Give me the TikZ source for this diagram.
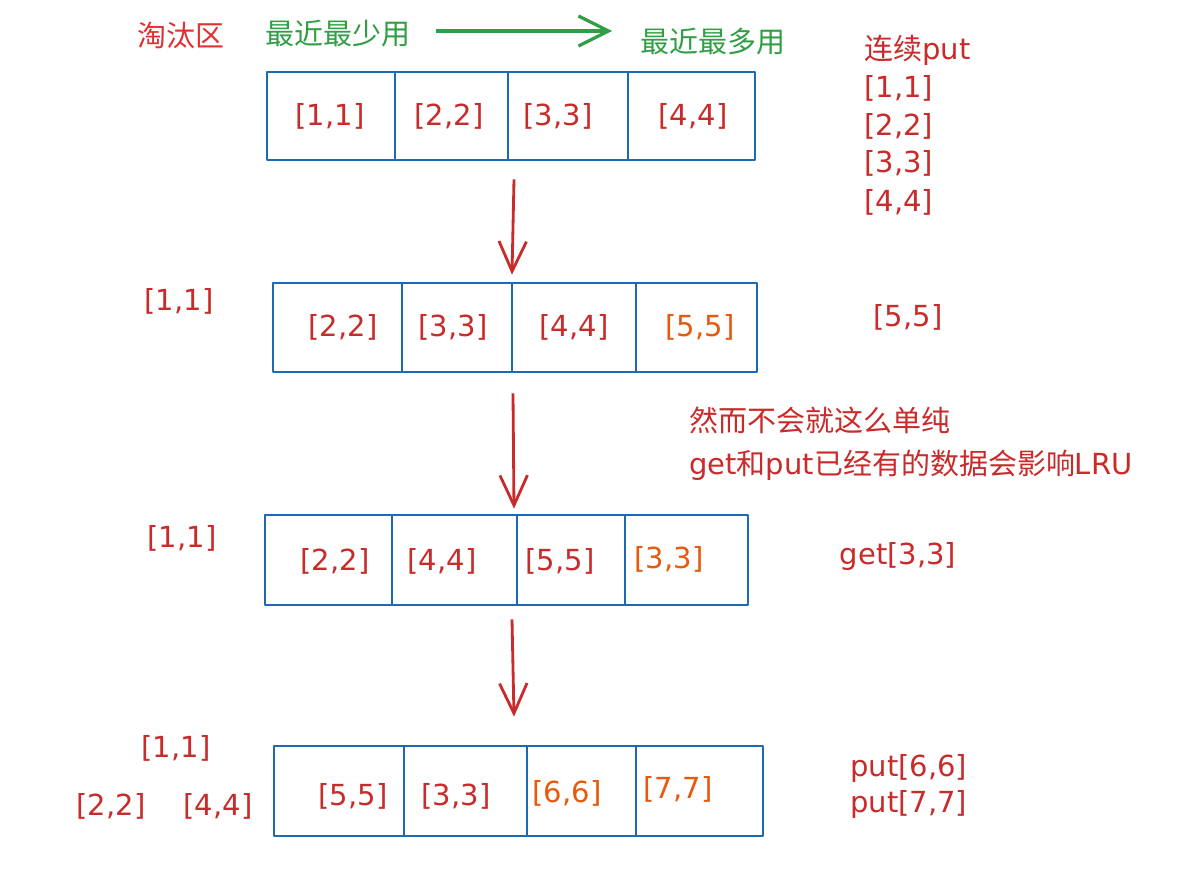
\documentclass[tikz,border=0pt]{standalone}
\usepackage{fontspec}
\setmainfont{DejaVu Sans}
\newfontfamily\cjk{Noto Sans CJK SC}
\newfontfamily\lat{DejaVu Sans}
\usetikzlibrary{arrows.meta,calc,fit}
\definecolor{lrured}{HTML}{C92A2A}
\definecolor{lrupink}{HTML}{E03131}
\definecolor{lruorange}{HTML}{E8590C}
\definecolor{lrublue}{HTML}{1C6AB5}
\definecolor{lrugreen}{HTML}{2F9E44}

\begin{document}
\begin{tikzpicture}[x=0.02cm,y=-0.02cm,line join=round,
  lab/.style={text=lrured,font=\lat\fontsize{16.5}{19}\selectfont,inner sep=0pt},
  newlab/.style={lab,text=lruorange},
  note/.style={text=lrured,font=\cjk\fontsize{16.5}{20}\selectfont,inner sep=0pt,anchor=west},
  rowbox/.style={draw=lrublue,line width=1.5pt,inner sep=0pt},
  cellline/.style={draw=lrublue,line width=1.5pt},
  down/.style={draw=lrured,line width=1.6pt,-{Straight Barb[length=0.6cm,width=0.55cm]}}]
\fill[white] (0,0) rectangle (1181,879);
\useasboundingbox (0,0) rectangle (1181,879);
% heading
\node[note,text=lrupink] (evict) at (137,35) {淘汰区};
\node[note,text=lrugreen] (old) at (265,34) {最近最少用};
\node[note,text=lrugreen] (new) at (640,42) {最近最多用};
\coordinate (g0) at (436,31);
\coordinate (g1) at (612,31);
\draw[lrugreen,line width=1.8pt,-{Straight Barb[length=0.6cm,width=0.6cm]}] (g0) -- (g1);
% row 1: fill up
\node[rowbox,fit={(267,72) (755,160)}] (r1) {};
\foreach \x in {395,508,628} \draw[cellline] (\x,72) -- (\x,160);
\node[lab] (a1) at (330,116) {[1,1]};
\node[lab] (a2) at (449,116) {[2,2]};
\node[lab] (a3) at (558,116) {[3,3]};
\node[lab] (a4) at (693,116) {[4,4]};
% right column
\node[note] (seq) at (864,50) {连续{\lat put}};
\node[lab,anchor=west] (s1) at (864,88) {[1,1]};
\node[lab,anchor=west] (s2) at (864,126) {[2,2]};
\node[lab,anchor=west] (s3) at (864,163) {[3,3]};
\node[lab,anchor=west] (s4) at (864,202) {[4,4]};
% row 2: put 5
\node[rowbox,fit={(273,283) (757,372)}] (r2) {};
\foreach \x in {402,512,636} \draw[cellline] (\x,283) -- (\x,372);
\node[lab] (b1) at (343,327) {[2,2]};
\node[lab] (b2) at (453,327) {[3,3]};
\node[lab] (b3) at (574,327) {[4,4]};
\node[newlab] (b4) at (700,327) {[5,5]};
\node[lab] (bo) at (179,301) {[1,1]};
\node[lab] (bp) at (908,317) {[5,5]};
% note
\node[note] (n1) at (689,420) {然而不会就这么单纯};
\node[note] (n2) at (689,465) {{\lat get}和{\lat put}已经有的数据会影响{\lat LRU}};
% row 3: get 3
\node[rowbox,fit={(265,515) (748,605)}] (r3) {};
\foreach \x in {392,517,625} \draw[cellline] (\x,515) -- (\x,605);
\node[lab] (c1) at (335,561) {[2,2]};
\node[lab] (c2) at (442,561) {[4,4]};
\node[lab] (c3) at (560,561) {[5,5]};
\node[newlab] (c4) at (669,559) {[3,3]};
\node[lab] (co) at (182,538) {[1,1]};
\node[lab] (cg) at (898,556) {get[3,3]};
% row 4: put 6 and 7
\node[rowbox,fit={(274,746) (763,836)}] (r4) {};
\foreach \x in {404,527,636} \draw[cellline] (\x,746) -- (\x,836);
\node[lab] (d1) at (353,796) {[5,5]};
\node[lab] (d2) at (456,796) {[3,3]};
\node[newlab] (d3) at (567,793) {[6,6]};
\node[newlab] (d4) at (678,789) {[7,7]};
\node[lab] (do1) at (176,748) {[1,1]};
\node[lab] (do2) at (111,806) {[2,2]};
\node[lab] (do3) at (218,806) {[4,4]};
\node[lab,anchor=west] (dp1) at (850,768) {put[6,6]};
\node[lab,anchor=west] (dp2) at (850,804) {put[7,7]};
% steps
\draw[down] ($(r1.south)+(3,18)$) -- ($(r2.north)+(-3,-7)$);
\draw[down] ($(r2.south)+(-2,20)$) -- ($(r3.north)+(7.5,-5)$);
\draw[down] ($(r3.south)+(5.5,13)$) -- ($(r4.north)+(-4.5,-28)$);
\end{tikzpicture}
\end{document}
